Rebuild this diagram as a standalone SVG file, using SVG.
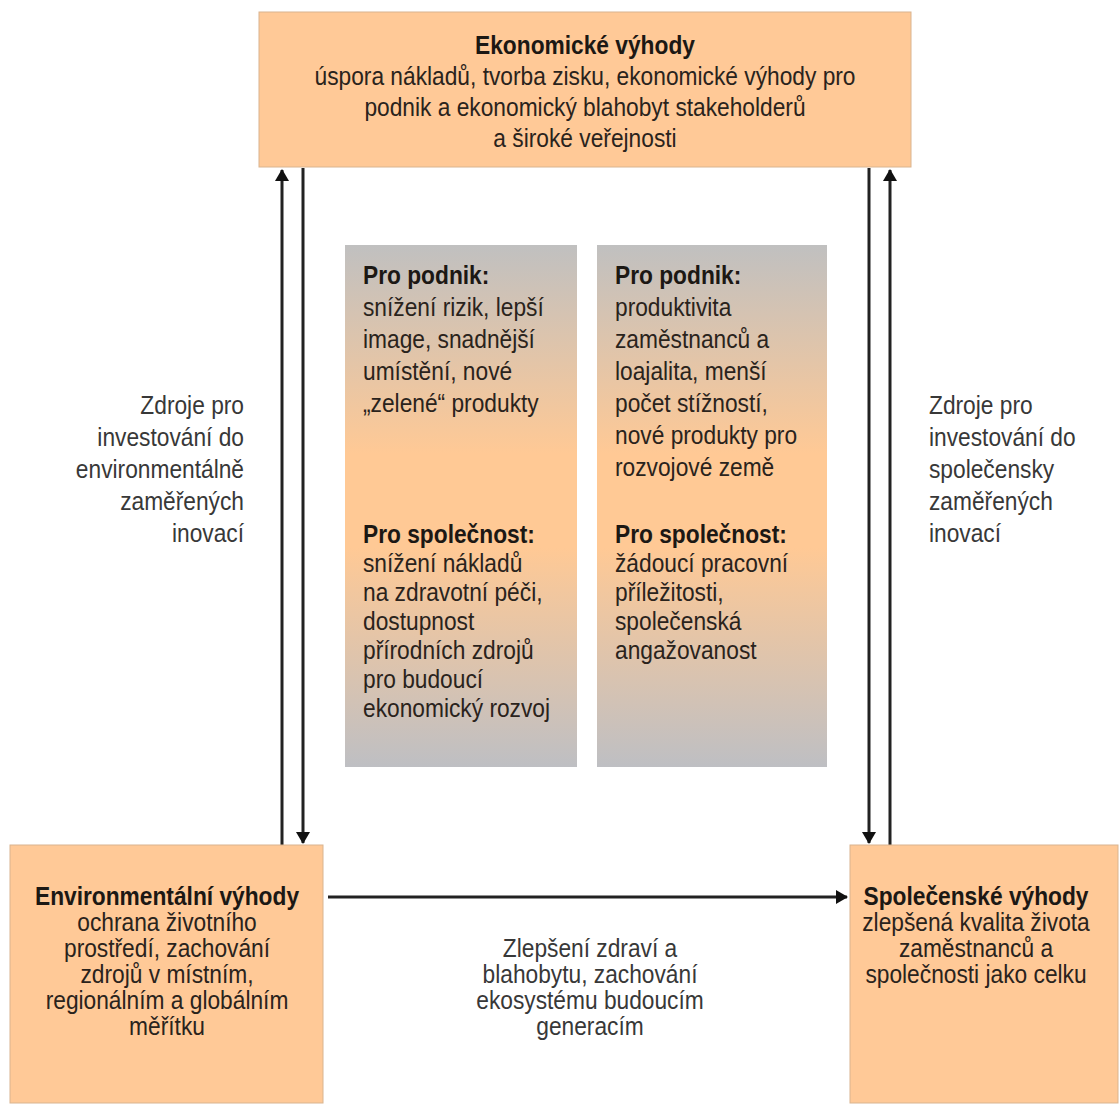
<svg xmlns="http://www.w3.org/2000/svg" width="1119" height="1104" viewBox="0 0 1119 1104">
<style>
.box{fill:#FFC997;stroke:#D9B48F;stroke-width:1}
.mid{fill:url(#g)}
text{font-family:"Liberation Sans",Arial,sans-serif;font-size:25px;fill:#2a231c}
.t{font-weight:bold;fill:#1c1814}
.c{text-anchor:middle}
.r{text-anchor:end}
.side{fill:#383838}
.ln{stroke:#222;stroke-width:3;fill:none}
</style>
<defs>
<linearGradient id="g" x1="0" y1="0" x2="0" y2="1">
<stop offset="0" stop-color="#C0C0C0"/>
<stop offset="0.4" stop-color="#FFC995"/>
<stop offset="0.58" stop-color="#FFC995"/>
<stop offset="1" stop-color="#BEBFC3"/>
</linearGradient>
<marker id="ah" viewBox="0 0 12 14" refX="11" refY="7" markerWidth="12" markerHeight="14" markerUnits="userSpaceOnUse" orient="auto">
<path d="M0,0 L12,7 L0,14 Z" fill="#111"/>
</marker>
</defs>
<rect width="1119" height="1104" fill="#fff"/>
<g id="connectors">
<line class="ln" x1="282" y1="845" x2="282" y2="170" marker-end="url(#ah)"/>
<line class="ln" x1="303" y1="168" x2="303" y2="843" marker-end="url(#ah)"/>
<line class="ln" x1="869" y1="168" x2="869" y2="843" marker-end="url(#ah)"/>
<line class="ln" x1="890" y1="845" x2="890" y2="170" marker-end="url(#ah)"/>
<line class="ln" x1="328" y1="897" x2="847" y2="897" marker-end="url(#ah)"/>
</g>
<g id="econ">
<rect class="box" x="259" y="12" width="652" height="155"/>
<text class="t c" transform="translate(585 54) scale(.91 1)">Ekonomické výhody</text>
<text class="c" transform="translate(585 85) scale(.91 1)">úspora nákladů, tvorba zisku, ekonomické výhody pro</text>
<text class="c" transform="translate(585 116) scale(.91 1)">podnik a ekonomický blahobyt stakeholderů</text>
<text class="c" transform="translate(585 147) scale(.91 1)">a široké veřejnosti</text>
</g>
<g id="mid1">
<rect class="mid" x="345" y="245" width="232" height="522"/>
<text class="t" transform="translate(363 284) scale(.91 1)">Pro podnik:</text>
<text transform="translate(363 316) scale(.91 1)">snížení rizik, lepší</text>
<text transform="translate(363 348) scale(.91 1)">image, snadnější</text>
<text transform="translate(363 380) scale(.91 1)">umístění, nové</text>
<text transform="translate(363 412) scale(.91 1)">„zelené“ produkty</text>
<text class="t" transform="translate(363 543) scale(.91 1)">Pro společnost:</text>
<text transform="translate(363 572) scale(.91 1)">snížení nákladů</text>
<text transform="translate(363 601) scale(.91 1)">na zdravotní péči,</text>
<text transform="translate(363 630) scale(.91 1)">dostupnost</text>
<text transform="translate(363 659) scale(.91 1)">přírodních zdrojů</text>
<text transform="translate(363 688) scale(.91 1)">pro budoucí</text>
<text transform="translate(363 717) scale(.91 1)">ekonomický rozvoj</text>
</g>
<g id="mid2">
<rect class="mid" x="597" y="245" width="230" height="522"/>
<text class="t" transform="translate(615 284) scale(.91 1)">Pro podnik:</text>
<text transform="translate(615 316) scale(.91 1)">produktivita</text>
<text transform="translate(615 348) scale(.91 1)">zaměstnanců a</text>
<text transform="translate(615 380) scale(.91 1)">loajalita, menší</text>
<text transform="translate(615 412) scale(.91 1)">počet stížností,</text>
<text transform="translate(615 444) scale(.91 1)">nové produkty pro</text>
<text transform="translate(615 476) scale(.91 1)">rozvojové země</text>
<text class="t" transform="translate(615 543) scale(.91 1)">Pro společnost:</text>
<text transform="translate(615 572) scale(.91 1)">žádoucí pracovní</text>
<text transform="translate(615 601) scale(.91 1)">příležitosti,</text>
<text transform="translate(615 630) scale(.91 1)">společenská</text>
<text transform="translate(615 659) scale(.91 1)">angažovanost</text>
</g>
<g id="left-label">
<text class="side r" transform="translate(244 414) scale(.91 1)">Zdroje pro</text>
<text class="side r" transform="translate(244 446) scale(.91 1)">investování do</text>
<text class="side r" transform="translate(244 478) scale(.91 1)">environmentálně</text>
<text class="side r" transform="translate(244 510) scale(.91 1)">zaměřených</text>
<text class="side r" transform="translate(244 542) scale(.91 1)">inovací</text>
</g>
<g id="right-label">
<text class="side" transform="translate(929 414) scale(.91 1)">Zdroje pro</text>
<text class="side" transform="translate(929 446) scale(.91 1)">investování do</text>
<text class="side" transform="translate(929 478) scale(.91 1)">společensky</text>
<text class="side" transform="translate(929 510) scale(.91 1)">zaměřených</text>
<text class="side" transform="translate(929 542) scale(.91 1)">inovací</text>
</g>
<g id="env">
<rect class="box" x="10" y="845" width="313" height="258"/>
<text class="t c" transform="translate(167 905) scale(.91 1)">Environmentální výhody</text>
<text class="c" transform="translate(167 931) scale(.91 1)">ochrana životního</text>
<text class="c" transform="translate(167 957) scale(.91 1)">prostředí, zachování</text>
<text class="c" transform="translate(167 983) scale(.91 1)">zdrojů v místním,</text>
<text class="c" transform="translate(167 1009) scale(.91 1)">regionálním a globálním</text>
<text class="c" transform="translate(167 1035) scale(.91 1)">měřítku</text>
</g>
<g id="center-label">
<text class="side c" transform="translate(590 957) scale(.91 1)">Zlepšení zdraví a</text>
<text class="side c" transform="translate(590 983) scale(.91 1)">blahobytu, zachování</text>
<text class="side c" transform="translate(590 1009) scale(.91 1)">ekosystému budoucím</text>
<text class="side c" transform="translate(590 1035) scale(.91 1)">generacím</text>
</g>
<g id="soc">
<rect class="box" x="850" y="845" width="268" height="258"/>
<text class="t c" transform="translate(976 905) scale(.91 1)">Společenské výhody</text>
<text class="c" transform="translate(976 931) scale(.91 1)">zlepšená kvalita života</text>
<text class="c" transform="translate(976 957) scale(.91 1)">zaměstnanců a</text>
<text class="c" transform="translate(976 983) scale(.91 1)">společnosti jako celku</text>
</g>
</svg>
